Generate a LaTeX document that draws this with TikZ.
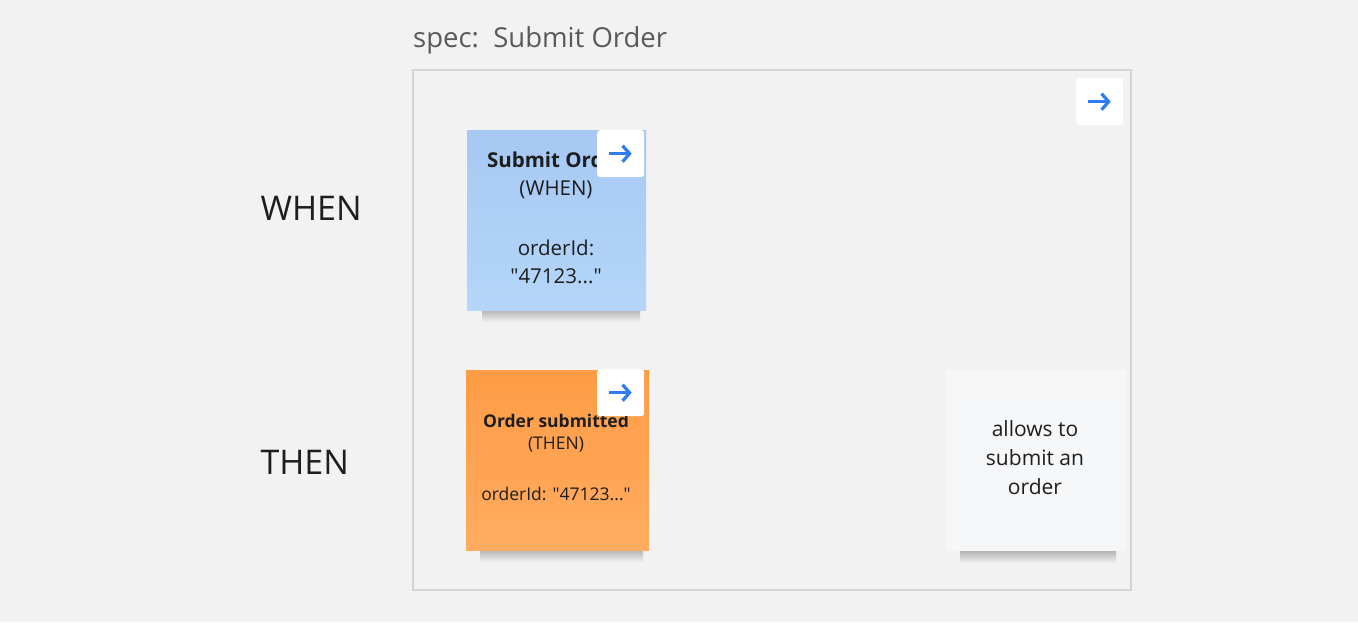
\documentclass[tikz,border=0pt]{standalone}
\usepackage{fontspec}
\setmainfont{Open Sans}
\usetikzlibrary{arrows.meta}
\definecolor{boardBg}{HTML}{F2F2F2}
\definecolor{frameLine}{HTML}{D4D4D4}
\definecolor{whenTop}{HTML}{A6C8F3}
\definecolor{whenBottom}{HTML}{B5D6F9}
\definecolor{thenTop}{HTML}{FF9C45}
\definecolor{thenBottom}{HTML}{FFAC60}
\definecolor{noteWhite}{HTML}{F6F7F9}
\definecolor{iconBlue}{HTML}{2D7CF2}
\definecolor{labelGray}{HTML}{5A5A5A}
\definecolor{noteText}{HTML}{1E1E1E}

\begin{document}
\begin{tikzpicture}
[x=1pt,y=-1pt,%
  stickyNote/.style={anchor=north west,inner sep=0pt,minimum width=#1,minimum height=180pt},%
  noteShadow/.style={top color=black!45,bottom color=boardBg,draw=none,opacity=0.6},%
  iconBox/.style={anchor=north west,fill=white,rounded corners=3pt,minimum width=47pt,minimum height=47pt,inner sep=0pt},%
  iconArrow/.style={-{Straight Barb[length=7pt,width=16pt,line width=3.2pt]},line width=3.2pt,iconBlue},%
  rowLabel/.style={font=\fontsize{34}{40}\selectfont,text=noteText,anchor=west},%
  noteLine/.style={font=\fontsize{#1}{#1}\selectfont,text=noteText}]
%% board and frame
\fill[boardBg] (0,0) rectangle (1358,622);
\node[anchor=south west,inner sep=0pt,font=\fontsize{27.5}{30}\selectfont,text=labelGray] (title) at (413,54) {spec:\ \ Submit Order};
\draw[frameLine,line width=1.2pt] (413,70) rectangle (1131,590);
%% row labels
\node[rowLabel] (whenLabel) at (257,208) {WHEN};
\node[rowLabel] (thenLabel) at (257,462) {THEN};
%% shadows under the notes
\foreach \x/\xx/\y in {482/640/310, 480/643/550, 960/1116/551}
{
  \shade[noteShadow] (\x,\y) rectangle (\xx,\y+12);
}
%% sticky notes
\node[stickyNote=179pt,top color=whenTop,bottom color=whenBottom] (whenNote) at (467,130) {};
\node[stickyNote=183pt,top color=thenTop,bottom color=thenBottom] (thenNote) at (466,370) {};
\fill[white!35!boardBg] (946,370) rectangle (1126,400);
\node[stickyNote=180pt,minimum height=151pt,fill=noteWhite] (ruleNote) at (946,400) {};
%% note texts
\node[noteLine=20.5,font=\bfseries\fontsize{20.5}{20.5}\selectfont] (whenName) at (556,160) {Submit Order};
\node[noteLine=20.5] (whenTag) at (556,190) {(WHEN)};
\node[noteLine=20.5] (whenId) at (556,248) {orderId:};
\node[noteLine=20.5] (whenValue) at (556,276) {\textquotedbl 47123...\textquotedbl};
\node[noteLine=17.5,font=\bfseries\fontsize{17.5}{17.5}\selectfont] (thenName) at (556,421) {Order submitted};
\node[noteLine=17.5] (thenTag) at (556,445) {(THEN)};
\node[noteLine=17.5] (thenId) at (556,494) {orderId: \textquotedbl 47123...\textquotedbl};
\node[noteLine=21,align=center,font=\fontsize{21}{29}\selectfont] (ruleText) at (1035,458) {allows to\\submit an\\order};
%% link icons
\foreach \name/\x/\y in {frameIcon/1076/78, whenIcon/597/130, thenIcon/597/369}
{
  \node[iconBox] (\name) at (\x,\y) {};
  \draw[iconArrow] ([xshift=-12pt]\name.center) -- ([xshift=11pt]\name.center);
}
\end{tikzpicture}
\end{document}
